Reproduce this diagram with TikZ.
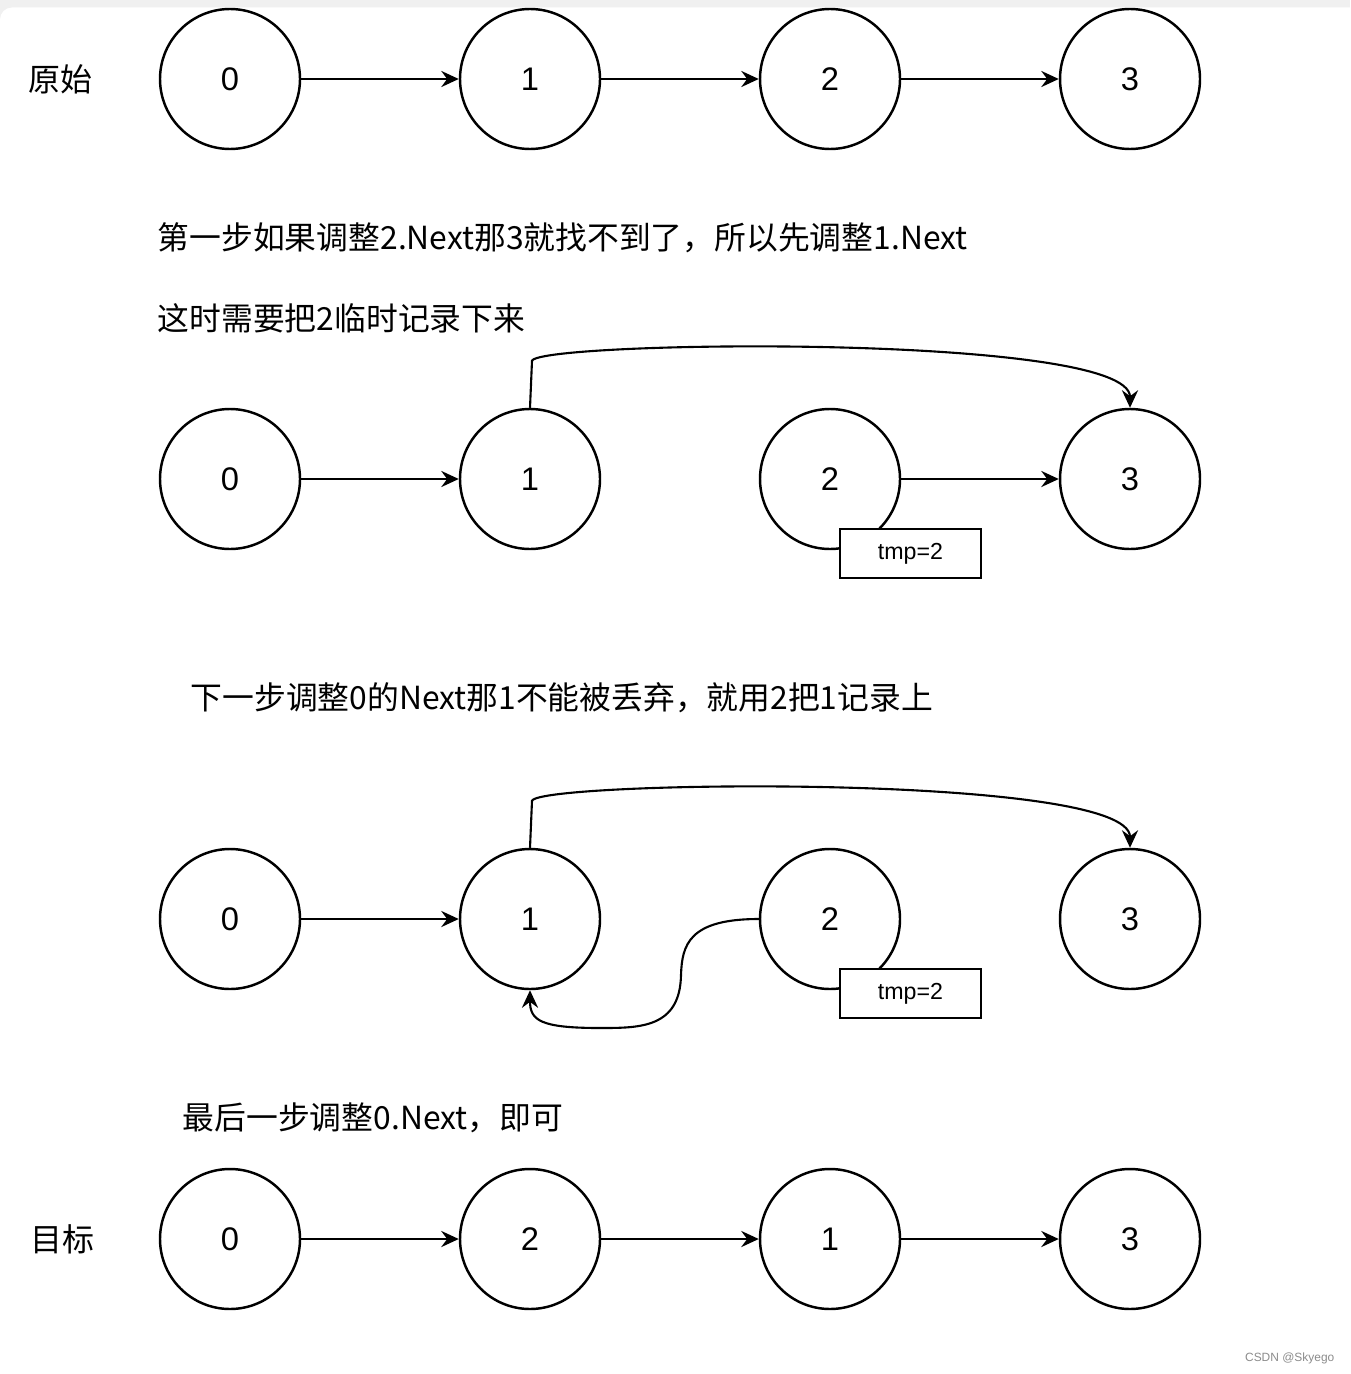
\documentclass[tikz,border=0pt]{standalone}
\usepackage{fontspec}
\setmainfont{Liberation Sans}
\newfontfamily\cjk{Noto Sans CJK SC}
\usepackage{tikz}
\usetikzlibrary{arrows.meta,positioning}
\definecolor{stripgray}{rgb}{0.94, 0.94, 0.94}
\definecolor{markgray}{rgb}{0.55, 0.55, 0.55}

\tikzset{
  listnode/.style={circle,draw,line width=0.7pt,minimum size=1.4cm,inner sep=0pt,
    font=\fontsize{9.3}{11}\selectfont},
  tmpbox/.style={draw,fill=white,line width=0.6pt,minimum width=1.41cm,minimum height=0.49cm,
    inner sep=0pt,font=\fontsize{6.6}{8}\selectfont},
  nxt/.style={line width=0.6pt,-{Stealth[length=5pt,width=4.6pt,inset=1.7pt]}},
  note/.style={anchor=west,inner sep=0pt,font=\cjk\fontsize{9.05}{11}\selectfont}
}

\begin{document}
\begin{tikzpicture}
  \useasboundingbox (0,0) rectangle (13.5,-13.74);
  \fill[stripgray] (0,0) rectangle (13.5,-13.74);
  \fill[white,rounded corners=0.12cm] (0,-0.075) rectangle (13.8,-14.1);

  % original list
  \node[inner sep=0pt,font=\cjk\fontsize{9.1}{11}\selectfont] (lorig) at (0.6,-0.79) {原始};
  \node[listnode] (a0) at (2.3,-0.79) {0};
  \node[listnode] (a1) at (5.3,-0.79) {1};
  \node[listnode] (a2) at (8.3,-0.79) {2};
  \node[listnode] (a3) at (11.3,-0.79) {3};
  \draw[nxt] (a0) -- (a1);
  \draw[nxt] (a1) -- (a2);
  \draw[nxt] (a2) -- (a3);

  \node[note] (t1) at (1.57,-2.38) {第一步如果调整2.Next那3就找不到了，所以先调整1.Next};
  \node[note] (t2) at (1.57,-3.18) {这时需要把2临时记录下来};

  % step one
  \node[listnode] (b0) at (2.3,-4.79) {0};
  \node[listnode] (b1) at (5.3,-4.79) {1};
  \node[listnode] (b2) at (8.3,-4.79) {2};
  \node[listnode] (b3) at (11.3,-4.79) {3};
  \node[tmpbox] (tb) at (9.105,-5.535) {tmp=2};
  \draw[nxt] (b0) -- (b1);
  \draw[nxt] (b2) -- (b3);
  \draw[nxt] (b1.north) -- ++(0.02,0.47) .. controls +(0.08,0.2) and +(0,0.75) .. (b3.north);

  \node[note] (t3) at (1.9,-6.98) {下一步调整0的Next那1不能被丢弃，就用2把1记录上};

  % step two
  \node[listnode] (c0) at (2.3,-9.19) {0};
  \node[listnode] (c1) at (5.3,-9.19) {1};
  \node[listnode] (c2) at (8.3,-9.19) {2};
  \node[listnode] (c3) at (11.3,-9.19) {3};
  \node[tmpbox] (tc) at (9.105,-9.935) {tmp=2};
  \draw[nxt] (c0) -- (c1);
  \draw[nxt] (c1.north) -- ++(0.02,0.47) .. controls +(0.08,0.2) and +(0,0.75) .. (c3.north);
  \draw[nxt] (c2.west) .. controls +(-0.7,0) and +(0.01,0.3) .. (6.81,-9.75)
    .. controls +(-0.01,-0.53) and +(0.4,0) .. (6.0,-10.28)
    .. controls +(-0.6,0) and +(0,-0.3) .. (c1.south);

  \node[note] (t4) at (1.82,-11.18) {最后一步调整0.Next，即可};

  % target list
  \node[inner sep=0pt,font=\cjk\fontsize{9.1}{11}\selectfont] (lgoal) at (0.62,-12.39) {目标};
  \node[listnode] (d0) at (2.3,-12.39) {0};
  \node[listnode] (d1) at (5.3,-12.39) {2};
  \node[listnode] (d2) at (8.3,-12.39) {1};
  \node[listnode] (d3) at (11.3,-12.39) {3};
  \draw[nxt] (d0) -- (d1);
  \draw[nxt] (d1) -- (d2);
  \draw[nxt] (d2) -- (d3);

  \node[anchor=east,inner sep=0pt,text=markgray,font=\fontsize{3.4}{4}\selectfont] (mark) at (13.35,-13.58) {CSDN @Skyego};
\end{tikzpicture}
\end{document}
